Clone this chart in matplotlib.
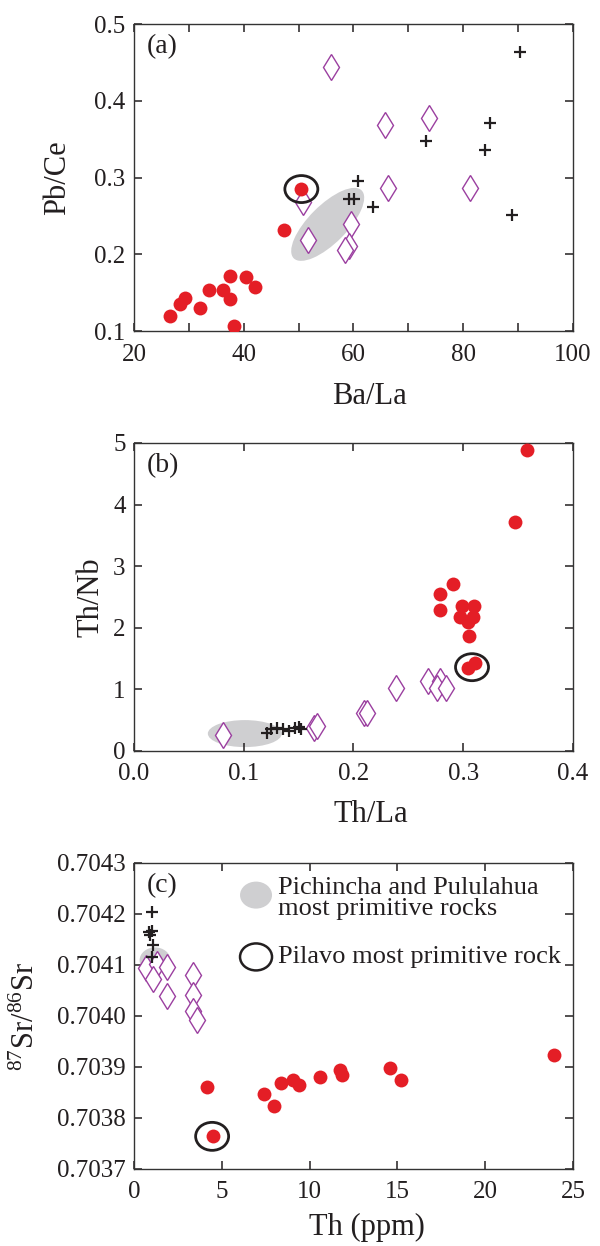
import matplotlib
matplotlib.use("Agg")
import matplotlib.pyplot as plt
import matplotlib.transforms as mtrans
from matplotlib.patches import Ellipse
from matplotlib.ticker import MultipleLocator, FormatStrFormatter

plt.rcParams['font.family'] = ['Liberation Serif', 'DejaVu Serif']
plt.rcParams['mathtext.fontset'] = 'custom'
plt.rcParams['mathtext.rm'] = 'Liberation Serif'
plt.rcParams['mathtext.it'] = 'Liberation Serif:italic'

RED = '#E41E26'
PURPLE = '#9B3FA0'
GRAY = '#CFCFD1'
INK = '#231F20'

# ---- panel (a): Ba/La vs Pb/Ce ----
a_red_x = [26.6, 28.3, 29.3, 32.1, 33.7, 36.3, 37.5, 37.5, 38.2, 40.4, 42.1, 47.4, 50.5]
a_red_y = [0.120, 0.135, 0.143, 0.130, 0.153, 0.153, 0.172, 0.142, 0.106, 0.171, 0.157, 0.232, 0.285]
a_dia_x = [55.9, 65.7, 73.8, 66.2, 81.3, 50.8, 51.7, 59.6, 59.2, 58.4]
a_dia_y = [0.444, 0.369, 0.377, 0.286, 0.286, 0.268, 0.219, 0.239, 0.211, 0.205]
a_plus_x = [90.4, 84.8, 73.3, 84.0, 60.8, 59.1, 60.1, 63.5, 88.8]
a_plus_y = [0.463, 0.371, 0.348, 0.336, 0.295, 0.272, 0.272, 0.262, 0.251]
a_field = (55.3, 0.239)
a_pilavo = (50.5, 0.285)

# ---- panel (b): Th/La vs Th/Nb ----
b_red_x = [0.358, 0.347, 0.291, 0.279, 0.279, 0.299, 0.310, 0.297, 0.309, 0.304, 0.305, 0.304, 0.311]
b_red_y = [4.89, 3.72, 2.71, 2.55, 2.29, 2.36, 2.36, 2.18, 2.18, 2.10, 1.86, 1.34, 1.42]
b_dia_x = [0.081, 0.164, 0.167, 0.210, 0.212, 0.239, 0.268, 0.279, 0.276, 0.284]
b_dia_y = [0.26, 0.38, 0.41, 0.61, 0.62, 1.03, 1.13, 1.14, 1.03, 1.03]
b_plus_x = [0.121, 0.125, 0.130, 0.136, 0.141, 0.147, 0.150, 0.152]
b_plus_y = [0.29, 0.36, 0.38, 0.36, 0.33, 0.38, 0.39, 0.36]
b_field = (0.101, 0.282)
b_pilavo = (0.308, 1.36)

# ---- panel (c): Th vs 87Sr/86Sr ----
c_red_x = [4.13, 4.50, 7.38, 7.97, 8.38, 9.07, 9.37, 10.6, 11.72, 11.87, 14.57, 15.21, 23.9]
c_red_y = [0.703860, 0.703765, 0.703848, 0.703823, 0.703868, 0.703875, 0.703864,
           0.703881, 0.703894, 0.703884, 0.703898, 0.703875, 0.703924]
c_dia_x = [0.68, 1.29, 1.90, 1.06, 1.90, 3.38, 3.38, 3.38, 3.57]
c_dia_y = [0.704095, 0.704102, 0.704096, 0.704072, 0.704040, 0.704081, 0.704041, 0.704009, 0.703992]
c_plus_x = [1.02, 0.87, 1.02, 0.91, 1.10, 1.02]
c_plus_y = [0.704204, 0.704164, 0.704167, 0.704159, 0.704140, 0.704116]
c_field = (1.2, 0.704109)
c_pilavo = (4.45, 0.703764)

fig = plt.figure(figsize=(6.0, 12.46), dpi=100)


def px_ellipse(ax, xy, w, h, angle=0, transform=None, **kw):
    # ellipse sized in pixels, placed at a point given in data (or other) coords
    tr = transform if transform is not None else ax.transData
    t = fig.dpi_scale_trans + mtrans.ScaledTranslation(xy[0], xy[1], tr)
    e = Ellipse((0, 0), w / 100, h / 100, angle=angle, transform=t, **kw)
    ax.add_patch(e)
    return e


def style(ax):
    for s in ax.spines.values():
        s.set_linewidth(1.0)
        s.set_color('#333333')
    ax.tick_params(which='both', direction='in', top=True, right=True,
                   length=5.5, width=1.1, labelsize=18, colors=INK)
    ax.tick_params(axis='x', which='both', pad=9)
    ax.tick_params(axis='y', which='both', pad=6)


def draw(ax, rx, ry, dx, dy, px, py):
    ax.plot(dx, dy, 'd', ms=13, mfc='white', mec=PURPLE, mew=1.0, ls='none', zorder=3)
    ax.plot(px, py, '+', ms=9, color=INK, mew=1.6, ls='none', zorder=4)
    ax.plot(rx, ry, 'o', ms=10, color=RED, mec='none', ls='none', zorder=5)


# (a)
ax1 = fig.add_axes([0.2233, 0.7343, 0.7317, 0.2464])
px_ellipse(ax1, a_field, 96, 38, angle=45, color=GRAY, lw=0, zorder=1)
draw(ax1, a_red_x, a_red_y, a_dia_x, a_dia_y, a_plus_x, a_plus_y)
px_ellipse(ax1, a_pilavo, 33, 27, fill=False, ec=INK, lw=2, zorder=6)
ax1.set_xlim(20, 100)
ax1.set_ylim(0.1, 0.5)
ax1.xaxis.set_major_locator(MultipleLocator(20))
ax1.xaxis.set_minor_locator(MultipleLocator(10))
ax1.yaxis.set_major_locator(MultipleLocator(0.1))
ax1.yaxis.set_major_formatter(FormatStrFormatter('%.1f'))
style(ax1)
ax1.set_xlabel('Ba/La', fontsize=22, color=INK)
ax1.set_ylabel('Pb/Ce', fontsize=22, color=INK)
ax1.xaxis.set_label_coords(0.537, -0.165)
ax1.yaxis.set_label_coords(-0.140, 0.5)
ax1.text(0.03, 0.925, '(a)', transform=ax1.transAxes, fontsize=20, color=INK, va='center')

# (b)
ax2 = fig.add_axes([0.2233, 0.3973, 0.7317, 0.2472])
px_ellipse(ax2, b_field, 74, 27, color=GRAY, lw=0, zorder=1)
draw(ax2, b_red_x, b_red_y, b_dia_x, b_dia_y, b_plus_x, b_plus_y)
px_ellipse(ax2, b_pilavo, 33, 27, fill=False, ec=INK, lw=2, zorder=6)
ax2.set_xlim(0, 0.4)
ax2.set_ylim(0, 5)
ax2.xaxis.set_major_locator(MultipleLocator(0.1))
ax2.xaxis.set_major_formatter(FormatStrFormatter('%.1f'))
ax2.yaxis.set_major_locator(MultipleLocator(1))
style(ax2)
ax2.set_xlabel('Th/La', fontsize=22, color=INK)
ax2.set_ylabel('Th/Nb', fontsize=22, color=INK)
ax2.xaxis.set_label_coords(0.54, -0.16)
ax2.yaxis.set_label_coords(-0.066, 0.5)
ax2.text(0.03, 0.925, '(b)', transform=ax2.transAxes, fontsize=20, color=INK, va='center')

# (c)
ax3 = fig.add_axes([0.2233, 0.0618, 0.7317, 0.2456])
px_ellipse(ax3, c_field, 31, 26, color=GRAY, lw=0, zorder=1)
draw(ax3, c_red_x, c_red_y, c_dia_x, c_dia_y, c_plus_x, c_plus_y)
px_ellipse(ax3, c_pilavo, 33, 28, fill=False, ec=INK, lw=2, zorder=6)
ax3.set_xlim(0, 25)
ax3.set_ylim(0.7037, 0.7043)
ax3.xaxis.set_major_locator(MultipleLocator(5))
ax3.yaxis.set_major_locator(MultipleLocator(0.0001))
ax3.yaxis.set_major_formatter(FormatStrFormatter('%.4f'))
style(ax3)
ax3.set_xlabel('Th (ppm)', fontsize=22, color=INK)
ax3.set_ylabel(r'$^{87}$Sr/$^{86}$Sr', fontsize=22, color=INK)
ax3.xaxis.set_label_coords(0.53, -0.145)
ax3.yaxis.set_label_coords(-0.212, 0.5)
ax3.text(0.03, 0.925, '(c)', transform=ax3.transAxes, fontsize=20, color=INK, va='center')

# legend in (c)
px_ellipse(ax3, (0.278, 0.895), 32, 27, transform=ax3.transAxes, color=GRAY, lw=0)
px_ellipse(ax3, (0.278, 0.693), 32, 27, transform=ax3.transAxes, fill=False, ec=INK, lw=1.8)
ax3.text(0.328, 0.883, 'Pichincha and Pululahua\nmost primitive rocks', transform=ax3.transAxes,
         fontsize=19, color=INK, va='center', ha='left', linespacing=0.95)
ax3.text(0.328, 0.693, 'Pilavo most primitive rock', transform=ax3.transAxes,
         fontsize=19, color=INK, va='center', ha='left')

fig.savefig('out.png', dpi=100)
